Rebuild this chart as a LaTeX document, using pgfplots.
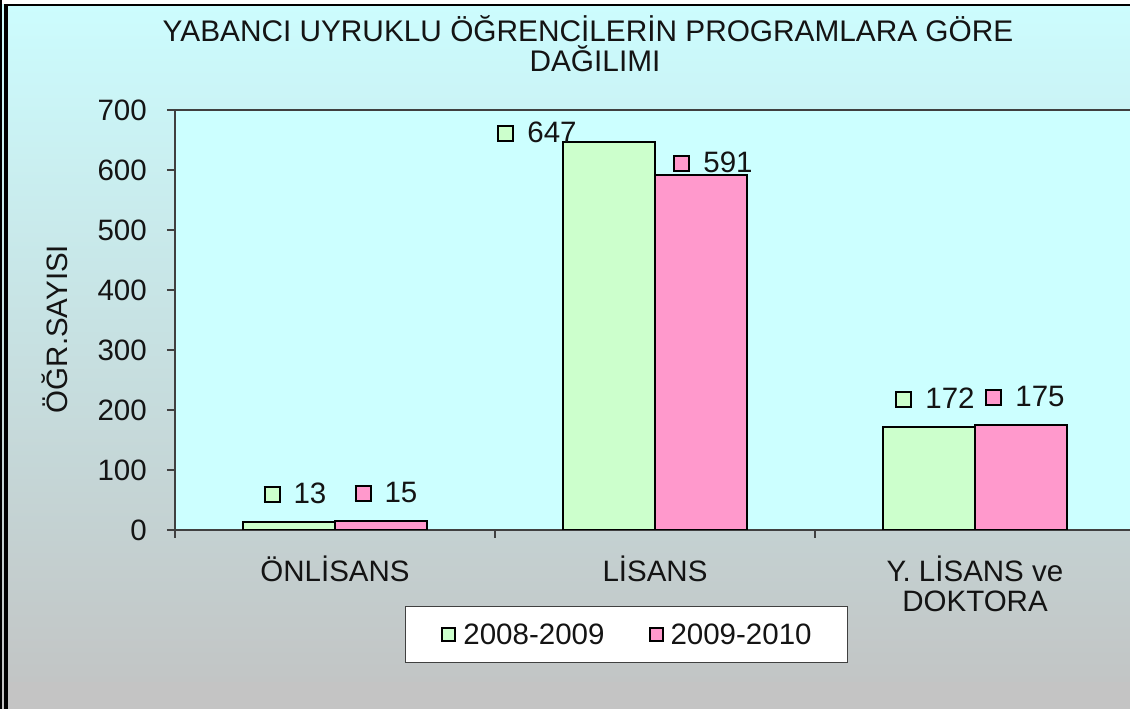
\documentclass[border=0pt]{standalone}
\usepackage{fontspec}
\setmainfont{Liberation Sans}
\usepackage{pgfplots}
\pgfplotsset{compat=1.18}

\definecolor{plotbg}{RGB}{204,255,255}
\definecolor{topbg}{RGB}{204,252,254}
\definecolor{botbg}{RGB}{194,197,197}
\definecolor{strip}{RGB}{196,196,196}
\definecolor{barA}{RGB}{204,255,204}
\definecolor{barB}{RGB}{255,153,204}
\definecolor{axisgray}{RGB}{64,64,64}

% small coloured key square used in the data labels
\newcommand{\keybox}[1]{\raisebox{2.5pt}{\fboxsep=0pt\fboxrule=2pt\fcolorbox{black}{#1}{\rule{13pt}{0pt}\rule{0pt}{13pt}}}}
\newcommand{\bigfont}{\fontsize{29.5}{30}\selectfont}

\begin{document}
\begin{tikzpicture}[x=1pt,y=1pt]
\useasboundingbox (0,0) rectangle (1130,709);
% frame and background
\fill[white] (0,0) rectangle (1130,709);
\shade[top color=topbg, bottom color=botbg] (0,27) rectangle (1130,704);
\fill[strip] (0,0) rectangle (1130,27);
\fill[black] (0,0) rectangle (2,709);
\fill[black] (4,0) rectangle (8,705);
\fill[black] (4,703) rectangle (1130,705);

% title and y label
\node[anchor=base, font=\fontsize{29.8}{30}\selectfont, text=black!92] at (588,667) {YABANCI UYRUKLU ÖĞRENCİLERİN PROGRAMLARA GÖRE};
\node[anchor=base, font=\fontsize{29.8}{30}\selectfont, text=black!92] at (595,637) {DAĞILIMI};
\node[rotate=90, anchor=base, font=\bigfont, text=black!92] at (67,380) {ÖĞR.SAYISI};

\begin{axis}[
  at={(175pt,179pt)}, anchor=south west,
  scale only axis, width=955pt, height=420pt,
  xmin=-0.5, xmax=2.484375, ymin=0, ymax=700,
  axis background/.style={fill=plotbg},
  axis lines*=left,
  axis line style={axisgray, line width=1.5pt},
  ybar, bar width=92pt,
  ytick={0,100,...,700},
  xtick={0,1,2},
  xticklabels={ÖNLİSANS, LİSANS, {Y. LİSANS ve\\DOKTORA}},
  minor xtick={-0.5,0.5,1.5},
  major x tick style={draw=none},
  tick align=outside,
  major tick length=8pt, minor tick length=8pt,
  tick style={axisgray, line width=1.2pt},
  ticklabel style={font=\bigfont, text=black!92},
  /pgf/number format/assume math mode=true,
  yticklabel style={anchor=east, inner sep=0pt, xshift=-20pt},
  xticklabel style={align=center, anchor=north, inner sep=0pt, yshift=-18pt},
  every node near coord/.append style={font=\bigfont, text=black!92, anchor=center,
    xshift=\lblx pt, yshift=\lbly pt},
  legend columns=2,
  legend style={at={(axis description cs:0.4728,-0.2488)}, anchor=center,
    draw=axisgray, line width=1.2pt, fill=white, inner xsep=36pt, inner ysep=18pt,
    font=\bigfont, text=black!92,
    nodes={inner sep=0pt, text height=20pt, text depth=0pt},
    /tikz/every odd column/.append style={column sep=7pt},
    /tikz/every even column/.append style={column sep=44pt}},
]
\addplot[fill=barA, draw=black, line width=2pt, bar shift=-46pt,
  legend image code/.code={\draw[fill=barA, draw=black, line width=2pt] (0pt,-7pt) rectangle (13pt,6pt);},
  visualization depends on={\thisrow{dx} \as \lblx},
  visualization depends on={\thisrow{dy} \as \lbly},
  nodes near coords={\keybox{barA}\hspace{13pt}\pgfmathprintnumber{\pgfplotspointmeta}}]
  table[x=x, y=y] {
x y dx dy
0 13 6 29
1 647 -72 9
2 172 6 29
};
\addlegendentry{2008-2009}
\addplot[fill=barB, draw=black, line width=2pt, bar shift=46pt,
  legend image code/.code={\draw[fill=barB, draw=black, line width=2pt] (0pt,-7pt) rectangle (13pt,6pt);},
  visualization depends on={\thisrow{dx} \as \lblx},
  visualization depends on={\thisrow{dy} \as \lbly},
  nodes near coords={\keybox{barB}\hspace{13pt}\pgfmathprintnumber{\pgfplotspointmeta}}]
  table[x=x, y=y] {
x y dx dy
0 15 5 29
1 591 12 13
2 175 4 29
};
\addlegendentry{2009-2010}
\draw[axisgray, line width=1.5pt] (rel axis cs:0,1) -- (rel axis cs:1,1);
\end{axis}
\end{tikzpicture}
\end{document}
